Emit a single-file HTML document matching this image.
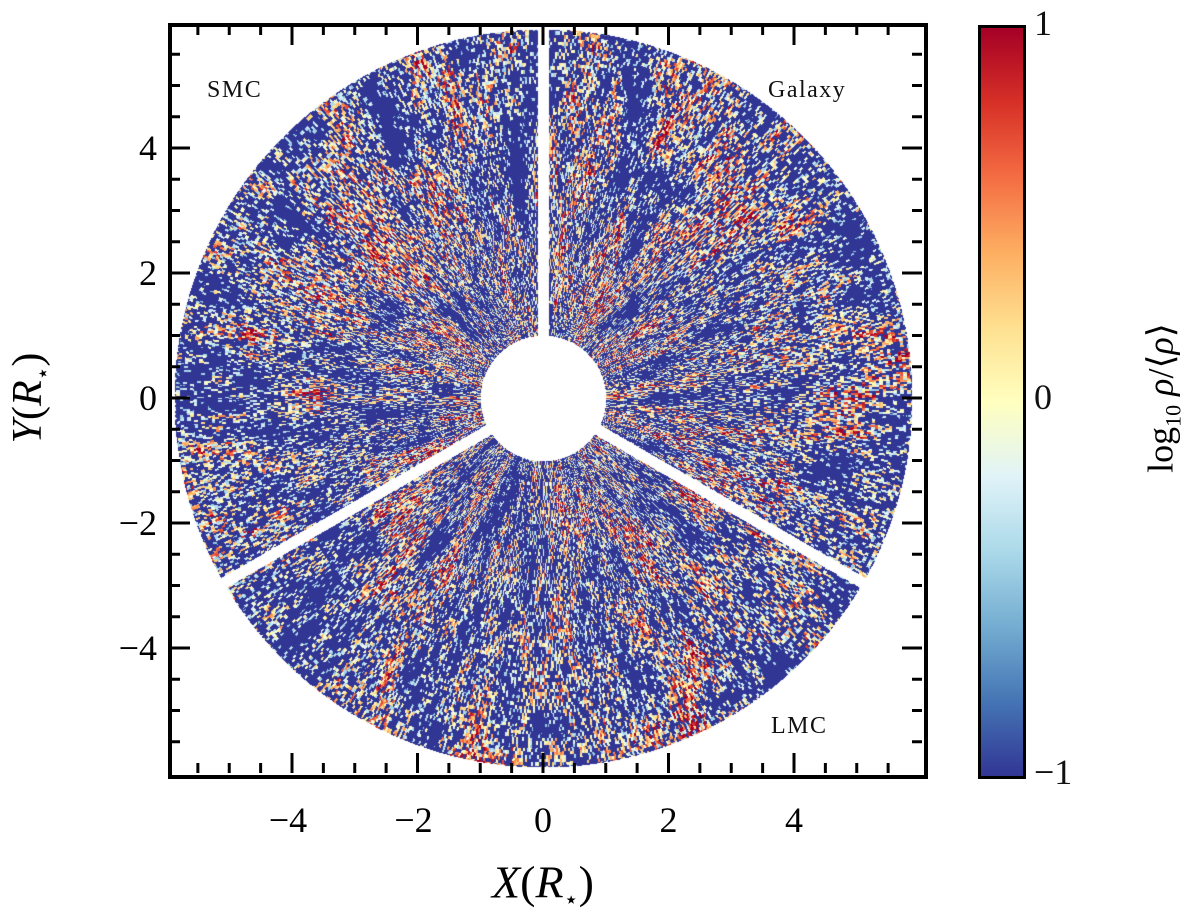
<!DOCTYPE html>
<html><head><meta charset="utf-8">
<style>
body{margin:0;background:#fff;width:1200px;height:919px;overflow:hidden;position:relative;font-family:"Liberation Serif",serif}
#plot{position:absolute;left:170px;top:25px;width:752px;height:748px}
#frame{position:absolute;left:168px;top:23px;width:752px;height:748px;border:4px solid #000;box-sizing:content-box}
.lbl{position:absolute;font-size:36px;color:#111}
.ann{position:absolute;font-size:24px;color:#111;letter-spacing:1.5px}
#cbar{position:absolute;left:978px;top:25px;width:42px;height:748px;border:3px solid #000;
background:linear-gradient(to top,#313695 0%,#4575b4 10%,#74add1 20%,#abd9e9 30%,#e0f3f8 40%,#ffffbf 50%,#fee090 60%,#fdae61 70%,#f46d43 80%,#d73027 90%,#a50026 100%)}
</style></head><body>
<canvas id="plot" width="752" height="748"></canvas>
<div id="frame"></div>
<svg id="ticks" style="position:absolute;left:0;top:0" width="1200" height="919"></svg>
<div class="ann" style="left:207px;top:77px">SMC</div>
<div class="ann" style="left:768px;top:77px">Galaxy</div>
<div class="ann" style="left:771px;top:713px">LMC</div>
<div id="cbar"></div>
<div class="lbl" style="left:1034px;top:2px">1</div>
<div class="lbl" style="left:1034px;top:376px">0</div>
<div class="lbl" style="left:1034px;top:751px">−1</div>
<div style="position:absolute;left:1163px;top:398px;transform:translate(-50%,-50%) rotate(-90deg);font-size:36px;white-space:nowrap">log<sub style="font-size:22px">10</sub> <i>ρ</i>/⟨<i>ρ</i>⟩</div>
<div style="position:absolute;left:543px;top:885px;transform:translate(-50%,-50%);font-size:46px;white-space:nowrap"><i>X</i>(<i>R</i><sub style="font-size:24px">⋆</sub>)</div>
<div style="position:absolute;left:30px;top:398px;transform:translate(-50%,-50%) rotate(-90deg);font-size:42px;white-space:nowrap"><i>Y</i>(<i>R</i><sub style="font-size:22px">⋆</sub>)</div>
<script>
const xTicks=[-4,-2,0,2,4];
const yTicks=[-4,-2,0,2,4];
const NS='http://www.w3.org/2000/svg';
const X0=543,SX=62.75,Y0=398,SY=62.5;
const L=170,R=922,T=25,B=773;
const svg=document.getElementById('ticks');
function line(x1,y1,x2,y2,w,name){const l=document.createElementNS(NS,'line');
l.setAttribute('x1',x1);l.setAttribute('y1',y1);l.setAttribute('x2',x2);l.setAttribute('y2',y2);
l.setAttribute('stroke','#000');l.setAttribute('stroke-width',w);


svg.appendChild(l);}
function txt(x,y,s,anchor,name){const t=document.createElementNS(NS,'text');
t.setAttribute('x',x);t.setAttribute('y',y);t.setAttribute('text-anchor',anchor);
t.setAttribute('font-family','Liberation Serif, serif');t.setAttribute('font-size','36');t.textContent=s;


svg.appendChild(t);}
for(let v=-5.5;v<=5.6;v+=0.5){const maj=Math.abs(v%2)<1e-6;const len=maj?20:10;
const x=X0+v*SX;line(x,B,x,B-len,3,'x-tick');line(x,T,x,T+len,3,'x-tick');
const y=Y0-v*SY;line(L,y,L+len,y,3,'y-tick');line(R,y,R-len,y,3,'y-tick');}
xTicks.forEach(v=>txt(X0+v*SX-(v<0?4:0),832,v<0?'−'+(-v):String(v),'middle','x-tick-label'));
yTicks.forEach(v=>txt(157,Y0-v*SY+12,v<0?'−'+(-v):String(v),'end','y-tick-label'));
for(let i=1;i<20;i++){const y=T+i*748/20;const len=i%10==0?12:7;
line(981,y,981+len,y,2,'cbar-tick');line(1020,y,1020-len,y,2,'cbar-tick');}
const cmap=[[49,54,149],[69,117,180],[116,173,209],[171,217,233],[224,243,248],[255,255,191],[254,224,144],[253,174,97],[244,109,67],[215,48,39],[165,0,38]];
function col(v){v=Math.max(0,Math.min(1,v))*10;const i=Math.min(9,Math.floor(v)),f=v-i;const a=cmap[i],b=cmap[i+1];
return [a[0]+(b[0]-a[0])*f,a[1]+(b[1]-a[1])*f,a[2]+(b[2]-a[2])*f];}
function h(a,b){let n=(a*374761393+b*668265263)|0;n=(n^(n>>>13))*1274126177|0;n^=n>>>16;return (n>>>0)/4294967296;}
function sm(t,r,nt,nr,s){const a=t*nt,b=r*nr;const i=Math.floor(a),j=Math.floor(b);const fa=a-i,fb=b-j;
const u=fa*fa*(3-2*fa),w=fb*fb*(3-2*fb);
const v00=h(i%nt+s,j),v10=h((i+1)%nt+s,j),v01=h(i%nt+s,j+1),v11=h((i+1)%nt+s,j+1);
return (v00*(1-u)+v10*u)*(1-w)+(v01*(1-u)+v11*u)*w;}
const cv=document.getElementById('plot');const ctx=cv.getContext('2d');
const img=ctx.createImageData(752,748);const d=img.data;
const cx=X0-L,cy=Y0-T;const rOut=5.88*SX,rIn=1.0*SX;
const gaps=[90,210,330].map(a=>[Math.cos(a*Math.PI/180),-Math.sin(a*Math.PI/180)]);
const N=1100;
for(let py=0;py<748;py++)for(let px=0;px<752;px++){
 const dx=px-cx,dy=py-cy;const r=Math.hypot(dx,dy);const k=(py*752+px)*4;
 if(r>rOut||r<rIn){continue;}
 let skip=false;for(const g of gaps){const along=dx*g[0]+dy*g[1];const perp=Math.abs(-dx*g[1]+dy*g[0]);if(along>0&&perp<5.5)skip=true;}
 if(skip)continue;
 const t=(Math.atan2(dy,dx)+Math.PI)/(2*Math.PI);
 const ti=Math.floor(t*N);const ri=Math.floor(r/3.5);
 let v=0.55*h(ti,ri)+0.3*sm(t,r,220,1/25,9000)+0.3*sm(t,r,60,1/60,3000);
 let c;
 if(v<0.62)c=cmap[0];else c=col((v-0.62)/0.45+0.25);
 d[k]=c[0];d[k+1]=c[1];d[k+2]=c[2];d[k+3]=255;}
ctx.putImageData(img,0,0);
</script>
</body></html>
